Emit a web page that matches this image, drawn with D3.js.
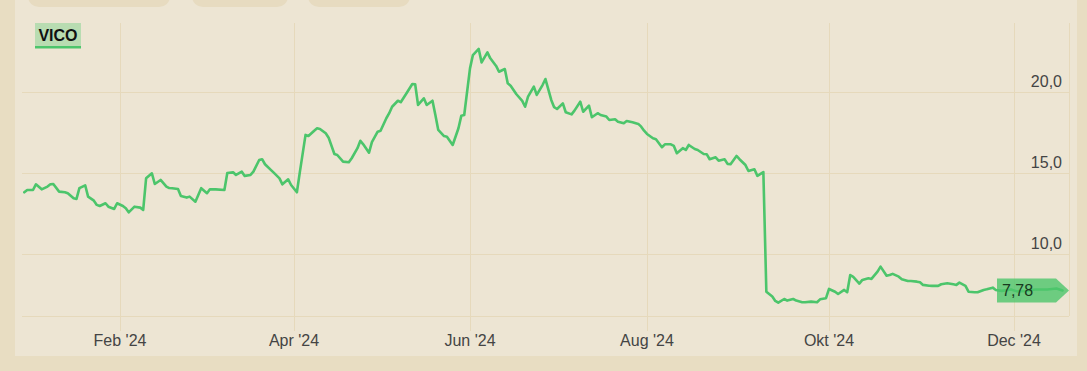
<!DOCTYPE html>
<html lang="de">
<head>
    <meta charset="UTF-8">
    <title>VICO</title>
    <script src="https://d3js.org/d3.v7.min.js"></script>
    <style>
        body { margin: 0; background: #e8ddc2; }
        svg { display: block; font-family: "Liberation Sans", Arial, sans-serif; }
        .grid line { stroke: #e6d9bb; stroke-width: 1px; }
        .tick-label { font-size: 16px; fill: #444; }
        .line { fill: none; stroke: #4cc56b; stroke-width: 2.6px; stroke-linejoin: round; stroke-linecap: round; }
    </style>
</head>
<body>
    <svg id="chart" width="1087" height="371"></svg>

    <script>
        // Kursverlauf VICO, Tag des Jahres 2024 (0 = 1. Jan)
        const days = [
            -2, -1, 1, 2, 4, 6, 7, 8, 10, 12,
            13, 15, 16, 17, 19, 20, 22, 23, 24, 26,
            27, 29, 30, 32, 33, 34, 36, 38, 39, 40,
            42, 43, 45, 47, 48, 49, 51, 52, 54, 55,
            57, 58, 59, 61, 62, 64, 67, 68, 70, 71,
            73, 74, 76, 77, 79, 80, 81, 83, 84, 86,
            87, 89, 90, 92, 93, 95, 96, 98, 99, 100,
            102, 103, 105, 106, 108, 110, 111, 113, 114, 115,
            117, 118, 120, 121, 123, 124, 125, 127, 128, 130,
            132, 133, 134, 136, 137, 139, 140, 141, 143, 144,
            146, 148, 149, 150, 152, 153, 155, 156, 158, 159,
            161, 162, 164, 165, 166, 168, 170, 171, 172, 174,
            175, 177, 178, 180, 181, 182, 184, 185, 187, 188,
            190, 191, 193, 194, 196, 197, 199, 200, 202, 203,
            205, 206, 208, 210, 211, 212, 213, 215, 216, 218,
            219, 221, 222, 223, 225, 226, 227, 229, 230, 232,
            233, 234, 236, 237, 239, 240, 241, 243, 244, 246,
            247, 249, 250, 252, 253, 255, 256, 257, 259, 260,
            262, 263, 265, 266, 268, 270, 271, 273, 274, 276,
            277, 279, 280, 281, 282, 284, 285, 287, 288, 290,
            291, 293, 294, 295, 297, 298, 300, 301, 303, 304,
            305, 307, 308, 310, 311, 313, 315, 316, 317, 319,
            320, 322, 323, 325, 326, 328, 329, 331, 334, 336,
            339, 342, 346, 349, 351
        ];
        const prices = [
            13.84, 13.98, 13.98, 14.33, 14.02, 14.19, 14.33, 14.35, 13.88, 13.84,
            13.78, 13.47, 13.43, 14.09, 14.27, 13.57, 13.32, 13.06, 12.99, 13.16,
            12.95, 12.81, 13.16, 12.99, 12.85, 12.60, 12.95, 12.89, 12.75, 14.70,
            15.01, 14.35, 14.60, 14.19, 14.10, 14.09, 14.04, 13.61, 13.51, 13.57,
            13.26, 13.67, 14.09, 13.78, 14.02, 14.02, 13.98, 15.03, 15.07, 14.91,
            15.11, 14.85, 14.91, 15.11, 15.83, 15.88, 15.57, 15.22, 15.05, 14.70,
            14.33, 14.64, 14.29, 13.84, 15.05, 17.38, 17.31, 17.64, 17.79, 17.75,
            17.48, 17.21, 16.20, 16.14, 15.73, 15.69, 15.94, 16.56, 17.02, 16.80,
            16.28, 16.94, 17.58, 17.64, 18.41, 18.72, 19.12, 19.49, 19.40, 19.95,
            20.52, 20.51, 19.23, 19.64, 19.23, 19.49, 18.61, 17.69, 17.31, 17.27,
            16.76, 17.79, 18.57, 18.61, 21.49, 22.31, 22.69, 21.86, 22.48, 22.11,
            21.64, 21.28, 21.45, 20.57, 20.42, 19.89, 19.48, 19.12, 19.74, 20.36,
            19.85, 20.46, 20.83, 19.54, 19.09, 18.98, 19.33, 18.78, 18.65, 18.88,
            19.43, 18.81, 19.19, 18.47, 18.72, 18.61, 18.51, 18.30, 18.35, 18.20,
            18.10, 18.24, 18.16, 18.06, 17.89, 17.64, 17.44, 17.17, 17.11, 16.62,
            16.80, 16.80, 16.70, 16.25, 16.56, 16.45, 16.76, 16.51, 16.45, 16.20,
            16.19, 15.88, 16.00, 15.79, 15.88, 15.59, 15.57, 16.08, 15.88, 15.52,
            15.15, 15.26, 14.85, 15.09, 7.70, 7.40, 7.13, 7.02, 7.25, 7.15,
            7.25, 7.15, 7.05, 7.05, 7.09, 7.05, 7.23, 7.30, 7.87, 7.70,
            7.56, 7.81, 7.67, 8.73, 8.61, 8.20, 8.43, 8.53, 8.49, 8.94,
            9.25, 8.69, 8.73, 8.80, 8.63, 8.47, 8.36, 8.36, 8.32, 8.28,
            8.12, 8.07, 8.06, 8.06, 8.16, 8.22, 8.16, 8.12, 8.26, 8.06,
            7.70, 7.67, 7.67, 7.81, 7.85, 7.95, 7.81, 7.75, 7.84, 7.72,
            7.75, 7.84, 7.84, 7.90, 7.78
        ];
        const seriesName = "VICO";
        const lastLabel = "7,78";

        // Achsen
        const tickDates = ["2024-02-01", "2024-04-01", "2024-06-01", "2024-08-01", "2024-10-01", "2024-12-01"];
        const tickLabels = ["Feb '24", "Apr '24", "Jun '24", "Aug '24", "Okt '24", "Dec '24"];
        const yTicks = [10, 15, 20];

        const jan1 = new Date(2024, 0, 1);
        const parse = d3.timeParse("%Y-%m-%d");
        const data = days.map((d, i) => ({ date: d3.timeDay.offset(jan1, d), value: prices[i] }));

        const svg = d3.select("#chart");
        const plot = { left: 22, right: 1069, top: 23, bottom: 316 };

        // Hintergrund
        svg.append("rect").attr("x", 15).attr("y", -10).attr("width", 1062).attr("height", 366)
            .attr("fill", "#ede5d3");
        [[28, 142], [192, 96], [308, 102]].forEach(([x0, w]) => {
            svg.append("rect").attr("x", x0).attr("y", -14).attr("width", w).attr("height", 21)
                .attr("rx", 11).attr("fill", "#e7dbc0");
        });

        // x-Skala: Monatsanfaenge an den Gitterlinien des Originals
        const x = d3.scaleTime()
            .domain(tickDates.map(parse))
            .range([120, 294, 470, 647, 829, 1014]);
        const y = d3.scaleLinear()
            .domain([6.2, 24.29])
            .range([plot.bottom, plot.top]);

        const grid = svg.append("g").attr("class", "grid");
        grid.selectAll(".h").data(yTicks).enter().append("line")
            .attr("x1", plot.left).attr("x2", plot.right)
            .attr("y1", d => Math.round(y(d)) + 0.5).attr("y2", d => Math.round(y(d)) + 0.5);
        grid.append("line").attr("x1", plot.left).attr("x2", plot.right)
            .attr("y1", plot.bottom + 0.5).attr("y2", plot.bottom + 0.5);
        grid.append("line").attr("x1", plot.right + 0.5).attr("x2", plot.right + 0.5)
            .attr("y1", plot.top).attr("y2", plot.bottom);
        grid.selectAll(".v").data(tickDates.map(parse)).enter().append("line")
            .attr("x1", d => Math.round(x(d)) + 0.5).attr("x2", d => Math.round(x(d)) + 0.5)
            .attr("y1", plot.top).attr("y2", 331);

        // Beschriftung x
        svg.selectAll(".xl").data(tickDates.map(parse)).enter().append("text")
            .attr("class", "tick-label")
            .attr("x", d => x(d)).attr("y", 346)
            .attr("text-anchor", "middle")
            .text((d, i) => tickLabels[i]);

        // Beschriftung y
        svg.selectAll(".yl").data(yTicks).enter().append("text")
            .attr("class", "tick-label")
            .attr("x", 1062).attr("y", d => y(d) - 5)
            .attr("text-anchor", "end")
            .text(d => d3.format(".1f")(d).replace(".", ","));

        // Linie
        const line = d3.line().x(d => x(d.date)).y(d => y(d.value));
        svg.append("path").datum(data).attr("class", "line").attr("d", line);

        // Letzter Kurs
        const last = data[data.length - 1];
        const ly = y(last.value);
        svg.append("path")
            .attr("d", `M997,${ly - 12} H1056 L1069,${ly} L1056,${ly + 12} H997 Z`)
            .attr("fill", "#4cc56b").attr("fill-opacity", 0.8);
        svg.append("text")
            .attr("x", 1002).attr("y", ly + 6)
            .attr("font-size", 16).attr("fill", "#183a20")
            .text(lastLabel);

        // Legende
        svg.append("rect").attr("x", 35).attr("y", 23).attr("width", 46).attr("height", 24)
            .attr("fill", "#b8dcb1");
        svg.append("rect").attr("x", 35).attr("y", 46).attr("width", 46).attr("height", 2.5)
            .attr("fill", "#4cc56b");
        svg.append("text")
            .attr("x", 58).attr("y", 41)
            .attr("text-anchor", "middle")
            .attr("font-size", 16).attr("font-weight", "bold").attr("fill", "#111")
            .text(seriesName);
    </script>
</body>
</html>
